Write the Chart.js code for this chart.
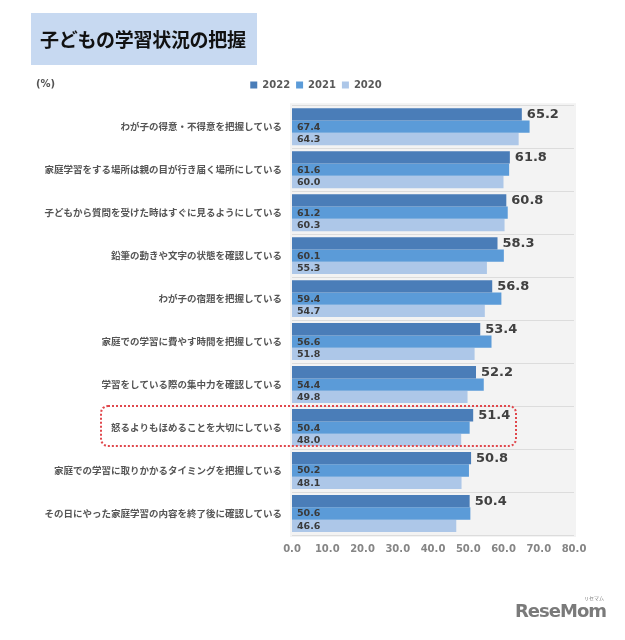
<!DOCTYPE html>
<html lang="ja">
<head>
<meta charset="utf-8">
<script src="https://cdn.jsdelivr.net/npm/chart.js@4.4.1/dist/chart.umd.min.js"></script>
<style>
    body { margin: 0; background: #fff; }
    #wrap { position: relative; width: 625px; height: 640px; overflow: hidden; }
    #chart { position: absolute; left: 0; top: 0; }
    .title-box {
        position: absolute; left: 31px; top: 13px; width: 226px; height: 52px;
        background: #c7d9f1;
    }
    .title-box span {
        position: absolute; left: 9px; top: 12px;
        font: bold 19px "Noto Sans CJK JP", sans-serif; color: #111;
        letter-spacing: -0.3px;
    }
    .unit {
        position: absolute; left: 36px; top: 78px;
        font: bold 10px "DejaVu Sans", sans-serif; color: #555;
    }
    .highlight {
        position: absolute; left: 100px; top: 405px; width: 413px; height: 38px;
        border: 2px dotted #e0474c; border-radius: 8px;
    }
    .logo {
        position: absolute; left: 515px; top: 600px;
        font: bold 18px "DejaVu Sans", sans-serif; color: #7a7a7a; letter-spacing: -1px;
    }
    .logo small {
        position: absolute; right: 2px; top: -6px;
        font: 5px "Noto Sans CJK JP", sans-serif; letter-spacing: 0;
    }
</style>
</head>
<body>
<div id="wrap">
    <canvas id="chart" width="625" height="640"></canvas>
    <div class="title-box"><span>子どもの学習状況の把握</span></div>
    <div class="unit">(%)</div>
    <div class="highlight"></div>
    <div class="logo">ReseMom<small>リセマム</small></div>
</div>
<script>
// survey items (top to bottom)
const categories = [
    'わが子の得意・不得意を把握している',
    '家庭学習をする場所は親の目が行き届く場所にしている',
    '子どもから質問を受けた時はすぐに見るようにしている',
    '鉛筆の動きや文字の状態を確認している',
    'わが子の宿題を把握している',
    '家庭での学習に費やす時間を把握している',
    '学習をしている際の集中力を確認している',
    '怒るよりもほめることを大切にしている',
    '家庭での学習に取りかかるタイミングを把握している',
    'その日にやった家庭学習の内容を終了後に確認している'
];

const values2022 = [65.2, 61.8, 60.8, 58.3, 56.8, 53.4, 52.2, 51.4, 50.8, 50.4];
const values2021 = [67.4, 61.6, 61.2, 60.1, 59.4, 56.6, 54.4, 50.4, 50.2, 50.6];
const values2020 = [64.3, 60.0, 60.3, 55.3, 54.7, 51.8, 49.8, 48.0, 48.1, 46.6];

const xTicks = [0, 10, 20, 30, 40, 50, 60, 70, 80];

// light grey plot background
const plotBackground = {
    id: 'plotBackground',
    beforeDraw(chart) {
        const { ctx, chartArea } = chart;
        ctx.save();
        ctx.fillStyle = '#f3f3f3';
        ctx.fillRect(chartArea.left - 2, chartArea.top - 2,
            chartArea.right - chartArea.left + 4, chartArea.bottom - chartArea.top + 4);
        ctx.restore();
    }
};

// centre the legend over the middle of the figure rather than the whole canvas
const legendShift = {
    id: 'legendShift',
    afterLayout(chart) {
        if (chart.legend) chart.legend.left = 58;
    }
};

// value labels: 2022 outside the bar end, others inside at the base
const valueLabels = {
    id: 'valueLabels',
    afterDatasetsDraw(chart) {
        const ctx = chart.ctx;
        const left = chart.chartArea.left;
        ctx.save();
        ctx.textBaseline = 'middle';
        ctx.textAlign = 'left';
        chart.data.datasets.forEach((ds, i) => {
            const meta = chart.getDatasetMeta(i);
            meta.data.forEach((bar, j) => {
                const text = ds.data[j].toFixed(1);
                if (i === 0) {
                    ctx.font = 'bold 13px "DejaVu Sans", sans-serif';
                    ctx.fillStyle = '#404040';
                    ctx.fillText(text, bar.x + 5, bar.y);
                } else {
                    ctx.font = 'bold 9.5px "DejaVu Sans", sans-serif';
                    ctx.fillStyle = '#3a3a3a';
                    ctx.fillText(text, left + 5, bar.y + 0.5);
                }
            });
        });
        ctx.restore();
    }
};

const ctx = document.getElementById('chart').getContext('2d');

new Chart(ctx, {
    type: 'bar',
    data: {
        labels: categories,
        datasets: [
            { label: '2022', data: values2022, backgroundColor: '#4a7db8' },
            { label: '2021', data: values2021, backgroundColor: '#5b9bd8' },
            { label: '2020', data: values2020, backgroundColor: '#adc7e8' }
        ]
    },
    options: {
        indexAxis: 'y',
        responsive: false,
        animation: false,
        layout: { padding: { left: 0, right: 51, top: 74, bottom: 80 } },
        datasets: {
            bar: { categoryPercentage: 0.86, barPercentage: 1.0 }
        },
        plugins: {
            legend: {
                position: 'top',
                align: 'center',
                labels: {
                    boxWidth: 7,
                    boxHeight: 7,
                    padding: 6,
                    color: '#595959',
                    font: { family: 'DejaVu Sans', size: 10, weight: 'bold' }
                }
            },
            // empty spacer between legend and plot
            subtitle: {
                display: true,
                text: '',
                weight: 500,
                font: { size: 1 },
                padding: { top: 0, bottom: 4 }
            },
            tooltip: { enabled: false }
        },
        scales: {
            x: {
                min: 0,
                max: 80,
                afterBuildTicks: scale => { scale.ticks = xTicks.map(v => ({ value: v })); },
                afterFit: scale => { scale.height = 25; },
                grid: { display: false },
                border: { display: false },
                ticks: {
                    padding: 0,
                    color: '#858585',
                    font: { family: 'DejaVu Sans', size: 10, weight: 'bold' },
                    callback: v => v.toFixed(1)
                }
            },
            y: {
                afterFit: scale => { scale.width = 292; },
                grid: { color: '#dcdcdc', lineWidth: 1, drawTicks: false },
                border: { display: false },
                ticks: {
                    padding: 10,
                    autoSkip: false,
                    color: '#555',
                    font: { family: 'Noto Sans CJK JP', size: 9.5, weight: 'bold' }
                }
            }
        }
    },
    plugins: [plotBackground, legendShift, valueLabels]
});
</script>
</body>
</html>
